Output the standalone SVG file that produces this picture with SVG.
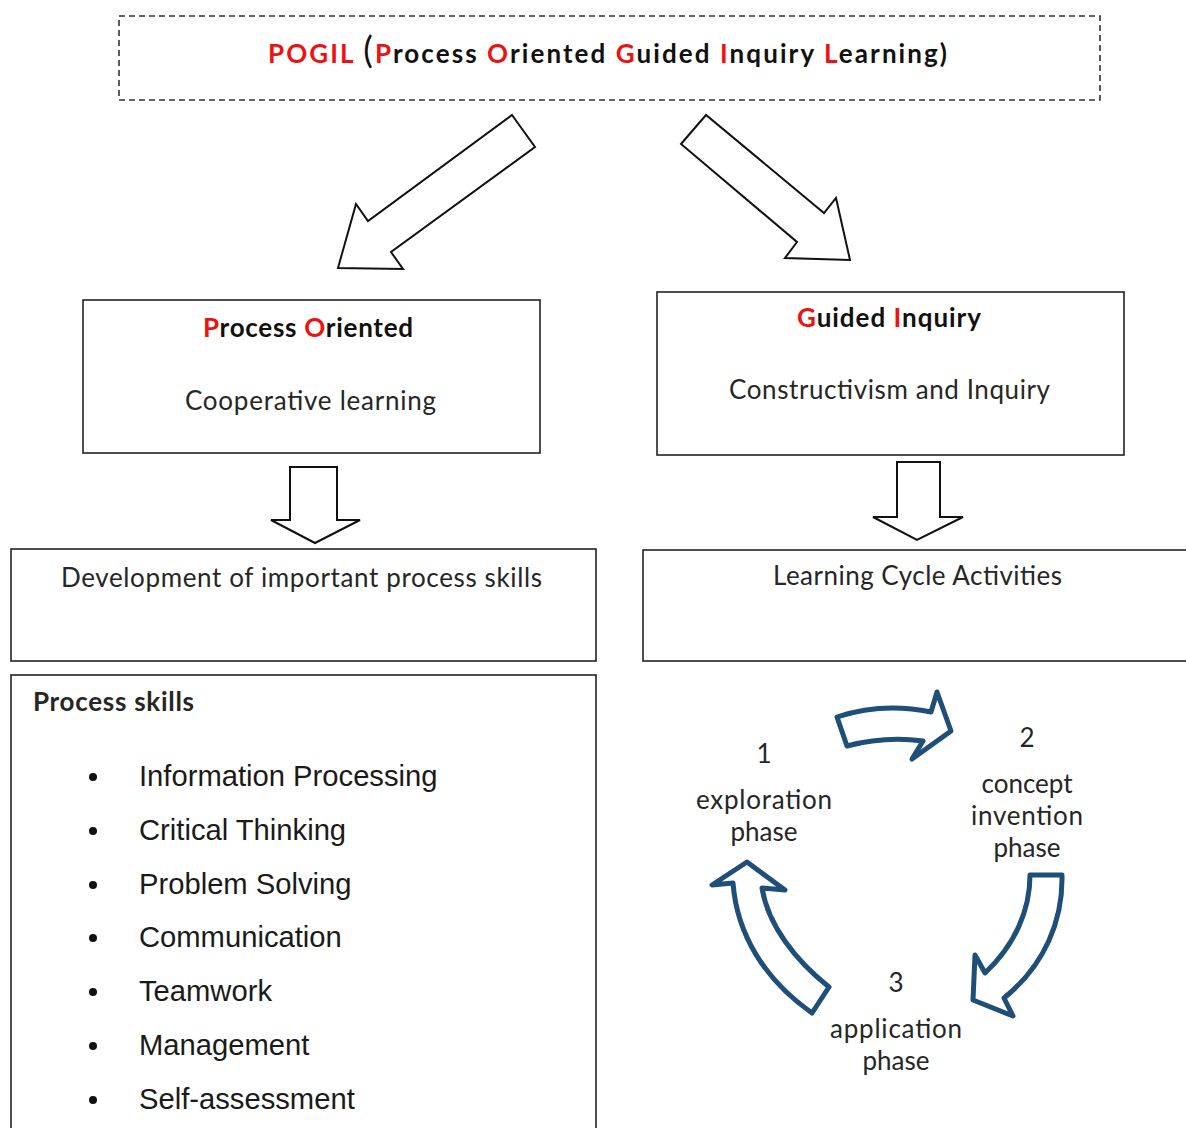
<svg xmlns="http://www.w3.org/2000/svg" width="1186" height="1128" viewBox="0 0 1186 1128">
<style>
.box{fill:#fff;stroke:#222;stroke-width:1.6}
.dash{fill:#fff;stroke:#333;stroke-width:1.6;stroke-dasharray:6 4}
.arr{fill:#fff;stroke:#111;stroke-width:2;stroke-linejoin:miter}
.cyc{fill:#fff;stroke:#1f4e79;stroke-width:5;stroke-linejoin:round}
.c{font-family:Lato,"Open Sans","Liberation Sans",sans-serif;fill:#262626;font-size:26px}
.b{font-weight:bold}
.r{fill:#ee1111}
.k{fill:#111}
.a{font-family:"Liberation Sans",Arial,sans-serif;font-size:29.2px;fill:#1a1a1a}
.m{text-anchor:middle}
</style>
<g id="title">
<rect class="dash" x="119" y="16" width="981" height="84"/>
<text class="c b" x="268" y="63" font-size="29" textLength="679"><tspan class="r">POGIL </tspan><tspan class="k" font-size="36" font-weight="normal">(</tspan><tspan class="r">P</tspan><tspan class="k">rocess </tspan><tspan class="r">O</tspan><tspan class="k">riented </tspan><tspan class="r">G</tspan><tspan class="k">uided </tspan><tspan class="r">I</tspan><tspan class="k">nquiry </tspan><tspan class="r">L</tspan><tspan class="k">earning)</tspan></text>
</g>
<g id="process-oriented">
<rect class="box" x="83" y="300" width="457" height="153"/>
<text class="c b" x="203" y="337" textLength="210"><tspan class="r">P</tspan><tspan class="k">rocess </tspan><tspan class="r">O</tspan><tspan class="k">riented</tspan></text>
<text class="c" x="185" y="410" textLength="251">Cooperative learning</text>
</g>
<g id="guided-inquiry">
<rect class="box" x="657" y="292" width="467" height="163"/>
<text class="c b" x="797" y="327" textLength="184"><tspan class="r">G</tspan><tspan class="k">uided </tspan><tspan class="r">I</tspan><tspan class="k">nquiry</tspan></text>
<text class="c" x="729" y="399" textLength="321">Constructivism and Inquiry</text>
</g>
<g id="development">
<rect class="box" x="11" y="549" width="585" height="112"/>
<text class="c" x="61" y="587" textLength="481">Development of important process skills</text>
</g>
<g id="learning-cycle">
<rect class="box" x="643" y="550" width="560" height="111"/>
<text class="c" x="773" y="585" textLength="289">Learning Cycle Activities</text>
</g>
<g id="process-skills">
<rect class="box" x="11" y="675" width="585" height="470"/>
<text class="c b" x="33" y="711" font-size="24" fill="#111" textLength="161">Process skills</text>
<g fill="#111">
<circle cx="93" cy="777" r="4"/><circle cx="93" cy="831" r="4"/><circle cx="93" cy="885" r="4"/><circle cx="93" cy="938" r="4"/><circle cx="93" cy="992" r="4"/><circle cx="93" cy="1046" r="4"/><circle cx="93" cy="1100" r="4"/>
</g>
<text class="a" x="139" y="786">Information Processing</text>
<text class="a" x="139" y="840">Critical Thinking</text>
<text class="a" x="139" y="894">Problem Solving</text>
<text class="a" x="139" y="947">Communication</text>
<text class="a" x="139" y="1001">Teamwork</text>
<text class="a" x="139" y="1055">Management</text>
<text class="a" x="139" y="1109">Self-assessment</text>
</g>
<g id="phase-1">
<text class="c m" x="764" y="763">1</text>
<text class="c m" x="764" y="809" textLength="136">exploration</text>
<text class="c m" x="764" y="841">phase</text>
</g>
<g id="phase-2">
<text class="c m" x="1027" y="747">2</text>
<text class="c m" x="1027" y="793">concept</text>
<text class="c m" x="1027" y="825" textLength="112">invention</text>
<text class="c m" x="1027" y="857">phase</text>
</g>
<g id="phase-3">
<text class="c m" x="896" y="992">3</text>
<text class="c m" x="896" y="1038" textLength="132">application</text>
<text class="c m" x="896" y="1070">phase</text>
</g>
<g id="connectors">
<path class="arr" d="M512,115 L535,147 L391,252 L403,269 L338,268 L356,204 L368,221 Z"/>
<path class="arr" d="M706,115 L681,144 L797,242 L785,258 L850,260 L836,198 L824,213 Z"/>
<path class="arr" d="M290,467 L337,467 L337,520 L360,520 L315,543 L271,520 L290,520 Z"/>
<path class="arr" d="M897,462 L940,462 L940,517 L963,517 L917,540 L873,517 L897,517 Z"/>
<path class="cyc" d="M837,717 Q882,702 931,712 L937,692 L951,731 L912,759 L923,741 Q885,736 847,746 Z"/>
<path class="cyc" d="M1030,875 L1062,875 C1063,920 1045,965 1004,998 L1013,1016 L973,1000 L975,955 L985,973 C1015,945 1030,910 1030,875 Z"/>
<path class="cyc" d="M812,1013 L829,987 C795,960 768,925 762,888 L785,890 L747,862 L712,885 L733,883 C737,935 765,980 812,1013 Z"/>
</g>
</svg>
